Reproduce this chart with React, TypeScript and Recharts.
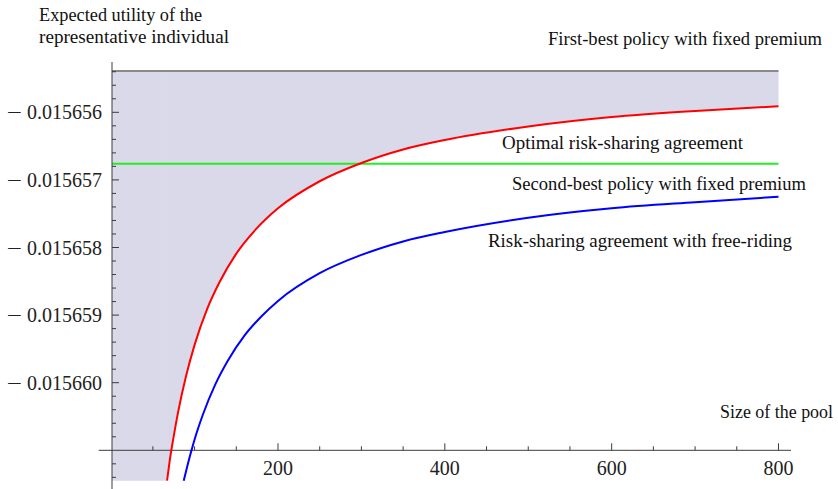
import { ComposedChart, Line, Area, XAxis, YAxis, ReferenceLine, ReferenceDot } from 'recharts';

// pool size (n) and expected utility
const POOL_OPTIMAL = [67, 70, 75, 80, 90, 100, 115, 130, 150, 175, 200, 250, 300, 350, 400, 500, 600, 700, 800];
const UTIL_OPTIMAL = [
  -0.01566145, -0.01566117, -0.01566079, -0.01566045, -0.01565989, -0.01565944, -0.01565891, -0.01565851,
  -0.01565809, -0.01565771, -0.01565742, -0.01565702, -0.01565675, -0.01565655, -0.01565641, -0.01565621,
  -0.01565607, -0.01565598, -0.01565591,
];
const POOL_FREERIDE = [87, 90, 95, 100, 110, 125, 140, 160, 180, 200, 250, 300, 350, 400, 500, 600, 700, 800];
const UTIL_FREERIDE = [
  -0.01566145, -0.0156613, -0.01566106, -0.01566084, -0.01566047, -0.01566002, -0.01565967, -0.0156593,
  -0.01565902, -0.01565879, -0.01565838, -0.01565811, -0.01565791, -0.01565777, -0.01565756, -0.01565742,
  -0.01565733, -0.01565725,
];
const FIRST_BEST = -0.01565539;
const SECOND_BEST = -0.01565676;
const PLOT_FLOOR = -0.01566145;
const POOL_START = 1;
const POOL_END = 800;

const X_AXIS_AT = -0.015661;
const X_MAJOR = [200, 400, 600, 800];
const X_MINOR = [50, 100, 150, 250, 300, 350, 450, 500, 550, 650, 700, 750];
const Y_MAJOR = [-0.015656, -0.015657, -0.015658, -0.015659, -0.01566];
const Y_MINOR = [
  -0.0156554, -0.0156556, -0.0156558, -0.0156562, -0.0156564, -0.0156566, -0.0156568, -0.0156572, -0.0156574,
  -0.0156576, -0.0156578, -0.0156582, -0.0156584, -0.0156586, -0.0156588, -0.0156592, -0.0156594, -0.0156596,
  -0.0156598, -0.0156602, -0.0156604, -0.0156606, -0.0156608, -0.0156612, -0.0156614,
];

const optimalData = POOL_OPTIMAL.map((n, i) => ({ n, u: UTIL_OPTIMAL[i], range: [UTIL_OPTIMAL[i], FIRST_BEST] }));
const freeRideData = POOL_FREERIDE.map((n, i) => ({ n, u: UTIL_FREERIDE[i] }));
const leftShade = [
  { n: POOL_START, range: [PLOT_FLOOR, FIRST_BEST] },
  { n: POOL_OPTIMAL[0], range: [PLOT_FLOOR, FIRST_BEST] },
];
const firstBestData = [{ n: POOL_START, u: FIRST_BEST }, { n: POOL_END, u: FIRST_BEST }];
const secondBestData = [{ n: POOL_START, u: SECOND_BEST }, { n: POOL_END, u: SECOND_BEST }];

const AXIS = '#3c3c3c';
const NUM_FONT = "'Liberation Serif', 'Times New Roman', serif";

function YTick(props: any) {
  const { x, y, payload } = props;
  const major = Y_MAJOR.some((m) => Math.abs(m - payload.value) < 1e-12);
  return (
    <g>
      <line x1={x} x2={x + (major ? 7 : 4)} y1={y} y2={y} stroke={AXIS} strokeWidth={1} />
      {major && (
        <>
          <text
            transform={`translate(${x - 90},${y + 7}) scale(1.35,1)`}
            textAnchor="end"
            fontFamily={NUM_FONT}
            fontSize={20}
            fill="#222"
          >
            {'\u2212'}
          </text>
          <text x={x - 10} y={y} dy={7} textAnchor="end" fontFamily={NUM_FONT} fontSize={20} fill="#222">
            {Math.abs(payload.value).toFixed(6)}
          </text>
        </>
      )}
    </g>
  );
}

function xTickShape(major: boolean, label: number) {
  return (p: any) => (
    <g>
      <line x1={p.cx} x2={p.cx} y1={p.cy} y2={p.cy - (major ? 7 : 4)} stroke={AXIS} strokeWidth={1} />
      {major && (
        <text x={p.cx} y={p.cy + 25} textAnchor="middle" fontFamily={NUM_FONT} fontSize={20} fill="#222">
          {label}
        </text>
      )}
    </g>
  );
}

const LABELS = [
  { text: 'Expected utility of the', x: 39, y: 21, w: 163 },
  { text: 'representative individual', x: 39, y: 43, w: 190 },
  { text: 'First-best policy with fixed premium', x: 548, y: 45, w: 274 },
  { text: 'Optimal risk-sharing agreement', x: 502, y: 149, w: 241 },
  { text: 'Second-best policy with fixed premium', x: 512, y: 190, w: 294 },
  { text: 'Risk-sharing agreement with free-riding', x: 488, y: 247, w: 304 },
  { text: 'Size of the pool', x: 720, y: 418, w: 113 },
];

export default function App() {
  return (
    <div style={{ position: 'absolute', left: 0, top: 0, width: 838, height: 489, background: '#fff' }}>
      <ComposedChart width={838} height={489} margin={{ top: 62, right: 47, bottom: 0, left: 0 }}>
        <XAxis type="number" dataKey="n" domain={[POOL_START, 815]} hide allowDataOverflow />
        <YAxis
          type="number"
          domain={[-0.0156615725, -0.0156552559]}
          allowDataOverflow
          width={112}
          ticks={[...Y_MAJOR, ...Y_MINOR].sort((a, b) => a - b)}
          interval={0}
          tickSize={0}
          tickMargin={0}
          tickLine={false}
          axisLine={{ stroke: AXIS, strokeWidth: 1 }}
          tick={YTick}
        />
        <Area data={leftShade} dataKey="range" type="linear" fill="#d9d9ea" fillOpacity={1} stroke="none" isAnimationActive={false} />
        <Area data={optimalData} dataKey="range" type="monotone" fill="#d9d9ea" fillOpacity={1} stroke="none" isAnimationActive={false} />
        <ReferenceLine
          segment={[{ x: -15, y: X_AXIS_AT }, { x: 815, y: X_AXIS_AT }]}
          ifOverflow="visible"
          stroke={AXIS}
          strokeWidth={1}
        />
        {X_MINOR.map((v) => (
          <ReferenceDot key={'m' + v} x={v} y={X_AXIS_AT} r={0} ifOverflow="visible" shape={xTickShape(false, v)} />
        ))}
        {X_MAJOR.map((v) => (
          <ReferenceDot key={'M' + v} x={v} y={X_AXIS_AT} r={0} ifOverflow="visible" shape={xTickShape(true, v)} />
        ))}
        <Line data={firstBestData} dataKey="u" type="linear" stroke="#8a8a8a" strokeWidth={2} dot={false} activeDot={false} isAnimationActive={false} />
        <Line data={secondBestData} dataKey="u" type="linear" stroke="#22ee22" strokeWidth={2} dot={false} activeDot={false} isAnimationActive={false} />
        <Line data={optimalData} dataKey="u" type="monotone" stroke="#ff0000" strokeWidth={2} dot={false} activeDot={false} isAnimationActive={false} />
        <Line data={freeRideData} dataKey="u" type="monotone" stroke="#0000ff" strokeWidth={2} dot={false} activeDot={false} isAnimationActive={false} />
      </ComposedChart>
      <svg width={838} height={489} style={{ position: 'absolute', left: 0, top: 0, pointerEvents: 'none' }}>
        {LABELS.map((l) => (
          <text
            key={l.text}
            x={l.x}
            y={l.y}
            textLength={l.w}
            lengthAdjust="spacingAndGlyphs"
            fontFamily={NUM_FONT}
            fontSize={19}
            fill="#111"
          >
            {l.text}
          </text>
        ))}
      </svg>
    </div>
  );
}
